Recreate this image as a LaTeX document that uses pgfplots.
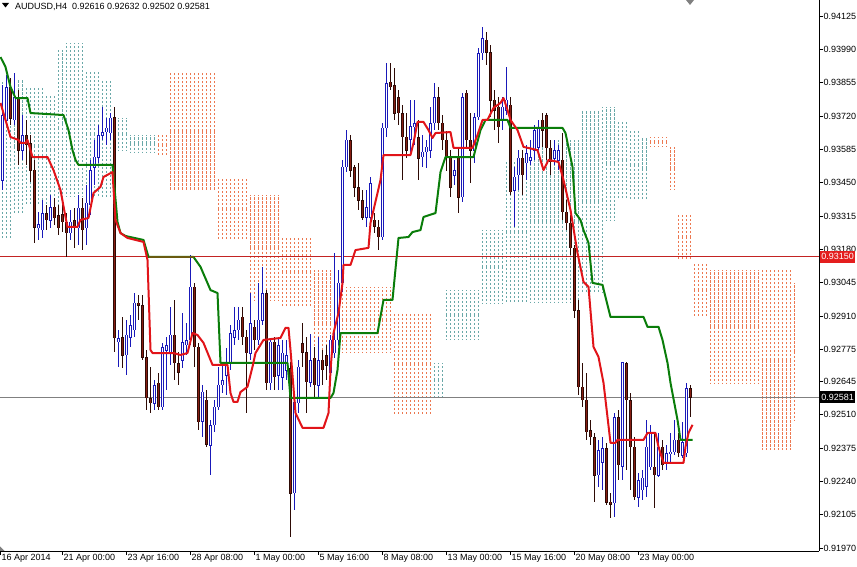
\documentclass[border=0pt]{standalone}
\usepackage{fontspec}
\setmainfont{Liberation Sans}
\usepackage{pgfplots}
\pgfplotsset{compat=1.18}
\usepackage{pgfplotstable}

\definecolor{bullc}{RGB}{25,25,185}
\definecolor{bearc}{RGB}{135,30,18}
\definecolor{bearo}{RGB}{45,10,5}
\definecolor{tenkan}{RGB}{225,20,25}
\definecolor{kijun}{RGB}{10,125,10}
\definecolor{olivel}{RGB}{105,90,15}
\definecolor{kumoupc}{RGB}{105,168,168}
\definecolor{kumodnc}{RGB}{236,120,80}
\definecolor{hred}{RGB}{195,35,35}
\definecolor{boxred}{RGB}{228,30,30}
\definecolor{pline}{RGB}{128,128,128}

\pgfplotsset{
  candle/.style n args={3}{draw=none, no markers, forget plot,
    error bars/.cd, y dir=both, y explicit, error mark=none,
    error bar style={draw=#1, line width=#2, #3}},
}

% Ichimoku cloud columns: i, top, bottom
\pgfplotstableread{
i A B
1 0.93866 0.93218
2 0.93866 0.93218
3 0.93866 0.93218
4 0.93866 0.93327
5 0.93866 0.93327
6 0.93866 0.93327
7 0.93838 0.93360
8 0.93838 0.93360
9 0.93838 0.93360
10 0.93838 0.93360
11 0.93838 0.93360
12 0.93805 0.93360
13 0.93805 0.93360
14 0.93805 0.93360
15 0.93987 0.93360
16 0.93987 0.93392
17 0.94016 0.93392
18 0.94016 0.93392
19 0.94016 0.93392
20 0.94016 0.93392
21 0.94016 0.93392
22 0.93906 0.93392
23 0.93906 0.93392
24 0.93906 0.93392
25 0.93906 0.93392
26 0.93866 0.93392
27 0.93866 0.93392
28 0.93866 0.93392
29 0.93712 0.93392
30 0.93712 0.93582
31 0.93712 0.93582
32 0.93712 0.93582
33 0.93643 0.93574
34 0.93643 0.93574
35 0.93643 0.93574
36 0.93643 0.93574
37 0.93643 0.93574
38 0.93643 0.93574
39 0.93643 0.93574
109 0.92720 0.92582
110 0.92720 0.92582
111 0.92720 0.92582
112 0.93015 0.92813
113 0.93015 0.92813
114 0.93015 0.92813
115 0.93015 0.92813
116 0.93015 0.92813
117 0.93015 0.92813
118 0.93015 0.92813
119 0.93015 0.92813
120 0.93015 0.92813
121 0.93258 0.92963
122 0.93258 0.92963
123 0.93258 0.92963
124 0.93258 0.92963
125 0.93258 0.92963
126 0.93258 0.92963
127 0.93542 0.92963
128 0.93542 0.92963
129 0.93542 0.92963
130 0.93542 0.92963
131 0.93542 0.92963
132 0.93542 0.92963
133 0.93623 0.92963
134 0.93623 0.92963
135 0.93623 0.92963
136 0.93623 0.92963
137 0.93623 0.92963
138 0.93623 0.92963
139 0.93623 0.92963
140 0.93623 0.92963
141 0.93623 0.92963
142 0.93623 0.92963
143 0.93623 0.92963
144 0.93623 0.92963
145 0.93623 0.92963
146 0.93744 0.93003
147 0.93744 0.93003
148 0.93744 0.93003
149 0.93744 0.93003
150 0.93744 0.93003
151 0.93757 0.93003
152 0.93757 0.93299
153 0.93757 0.93299
154 0.93757 0.93299
155 0.93704 0.93380
156 0.93704 0.93380
157 0.93704 0.93380
158 0.93663 0.93380
159 0.93663 0.93380
160 0.93663 0.93380
161 0.93635 0.93380
162 0.93635 0.93380
}\kumoup

\pgfplotstableread{
i A B
40 0.93651 0.93554
41 0.93651 0.93554
42 0.93651 0.93554
43 0.93898 0.93420
44 0.93898 0.93420
45 0.93898 0.93420
46 0.93898 0.93420
47 0.93898 0.93420
48 0.93898 0.93420
49 0.93898 0.93420
50 0.93898 0.93420
51 0.93898 0.93420
52 0.93898 0.93420
53 0.93898 0.93420
54 0.93898 0.93420
55 0.93473 0.93218
56 0.93473 0.93218
57 0.93473 0.93218
58 0.93473 0.93218
59 0.93473 0.93218
60 0.93473 0.93218
61 0.93473 0.93218
62 0.93473 0.93218
63 0.93400 0.92975
64 0.93400 0.92975
65 0.93400 0.92975
66 0.93400 0.92975
67 0.93400 0.92975
68 0.93400 0.92975
69 0.93400 0.92975
70 0.93400 0.92975
71 0.93230 0.92947
72 0.93230 0.92947
73 0.93230 0.92947
74 0.93230 0.92947
75 0.93230 0.92947
76 0.93230 0.92947
77 0.93230 0.92947
78 0.93230 0.92947
79 0.93096 0.92663
80 0.93096 0.92663
81 0.93096 0.92663
82 0.93096 0.92663
83 0.93096 0.92663
84 0.93028 0.92760
85 0.93028 0.92760
86 0.93028 0.92760
87 0.93028 0.92760
88 0.93028 0.92760
89 0.93028 0.92760
90 0.93028 0.92760
91 0.93028 0.92760
92 0.93028 0.92760
93 0.93028 0.92760
94 0.93028 0.92760
95 0.93028 0.92760
96 0.93028 0.92760
97 0.93028 0.92760
98 0.93028 0.92760
99 0.92922 0.92509
100 0.92922 0.92509
101 0.92922 0.92509
102 0.92922 0.92509
103 0.92922 0.92509
104 0.92922 0.92509
105 0.92922 0.92509
106 0.92922 0.92509
107 0.92922 0.92509
108 0.92922 0.92509
163 0.93635 0.93595
164 0.93635 0.93595
165 0.93635 0.93595
166 0.93635 0.93595
167 0.93635 0.93595
168 0.93595 0.93420
169 0.93595 0.93420
170 0.93327 0.93137
171 0.93327 0.93137
172 0.93327 0.93137
173 0.93327 0.93137
174 0.93125 0.92906
175 0.93125 0.92906
176 0.93125 0.92906
177 0.93125 0.92906
178 0.93096 0.92639
179 0.93096 0.92639
180 0.93096 0.92639
181 0.93096 0.92639
182 0.93096 0.92639
183 0.93096 0.92639
184 0.93096 0.92639
185 0.93096 0.92639
186 0.93096 0.92639
187 0.93096 0.92639
188 0.93096 0.92639
189 0.93096 0.92639
190 0.93096 0.92639
191 0.93096 0.92367
192 0.93096 0.92367
193 0.93096 0.92367
194 0.93096 0.92367
195 0.93096 0.92367
196 0.93096 0.92367
197 0.93096 0.92367
198 0.93096 0.92367
199 0.93044 0.92489
}\kumodn

\pgfplotstableread{
i O H L C
1 0.93461 0.93846 0.93420 0.93724
2 0.93704 0.93886 0.93684 0.93838
4 0.93704 0.93894 0.93684 0.93797
6 0.93582 0.93724 0.93542 0.93643
10 0.93267 0.93331 0.93218 0.93283
11 0.93258 0.93380 0.93226 0.93327
13 0.93299 0.93400 0.93267 0.93352
18 0.93246 0.93339 0.93218 0.93291
20 0.93267 0.93400 0.93198 0.93348
22 0.93267 0.93441 0.93198 0.93368
23 0.93360 0.93542 0.93319 0.93501
24 0.93510 0.93623 0.93441 0.93554
25 0.93554 0.93684 0.93530 0.93643
26 0.93643 0.93757 0.93623 0.93655
27 0.93655 0.93712 0.93603 0.93672
28 0.93651 0.93732 0.93623 0.93712
30 0.92805 0.92853 0.92704 0.92821
32 0.92752 0.92894 0.92671 0.92833
33 0.92825 0.92914 0.92785 0.92874
34 0.92853 0.93003 0.92825 0.92963
39 0.92558 0.92651 0.92529 0.92631
41 0.92542 0.92801 0.92529 0.92785
42 0.92772 0.92825 0.92610 0.92793
43 0.92760 0.92947 0.92712 0.92833
46 0.92732 0.92922 0.92700 0.92805
47 0.92793 0.92882 0.92752 0.92813
48 0.92813 0.93157 0.92793 0.93028
51 0.92481 0.92631 0.92420 0.92602
53 0.92388 0.92489 0.92266 0.92469
54 0.92469 0.92570 0.92440 0.92542
55 0.92542 0.92704 0.92529 0.92631
56 0.92631 0.92720 0.92598 0.92651
57 0.92671 0.92781 0.92590 0.92720
58 0.92720 0.92874 0.92691 0.92841
59 0.92825 0.92947 0.92793 0.92853
60 0.92853 0.92947 0.92813 0.92894
63 0.92760 0.93003 0.92732 0.92882
65 0.92813 0.93044 0.92793 0.92894
66 0.92894 0.93109 0.92874 0.93003
68 0.92639 0.92813 0.92610 0.92805
70 0.92671 0.92825 0.92610 0.92793
71 0.92659 0.92813 0.92610 0.92760
72 0.92691 0.92813 0.92651 0.92752
74 0.92193 0.92598 0.92124 0.92562
75 0.92558 0.92732 0.92517 0.92704
78 0.92643 0.92841 0.92623 0.92732
80 0.92631 0.92825 0.92582 0.92732
83 0.92679 0.92833 0.92651 0.92813
84 0.92760 0.93165 0.92740 0.92813
85 0.92813 0.93096 0.92793 0.93044
86 0.93044 0.93542 0.93007 0.93514
87 0.93514 0.93663 0.93493 0.93623
92 0.93311 0.93420 0.93271 0.93352
93 0.93311 0.93473 0.93279 0.93449
96 0.93230 0.93692 0.93218 0.93672
97 0.93672 0.93935 0.93635 0.93854
103 0.93623 0.93785 0.93570 0.93676
104 0.93676 0.93785 0.93603 0.93692
106 0.93554 0.93643 0.93514 0.93574
107 0.93574 0.93623 0.93510 0.93595
108 0.93582 0.93757 0.93550 0.93692
109 0.93692 0.93854 0.93663 0.93797
114 0.93481 0.93542 0.93441 0.93501
116 0.93392 0.93813 0.93372 0.93797
119 0.93582 0.93732 0.93530 0.93716
120 0.93716 0.93996 0.93704 0.93975
121 0.93975 0.94081 0.93947 0.94036
126 0.93704 0.93797 0.93663 0.93757
127 0.93744 0.93919 0.93724 0.93785
129 0.93420 0.93514 0.93271 0.93473
130 0.93481 0.93582 0.93420 0.93550
132 0.93530 0.93603 0.93461 0.93570
133 0.93542 0.93623 0.93522 0.93554
134 0.93582 0.93684 0.93542 0.93663
135 0.93595 0.93704 0.93582 0.93676
139 0.93550 0.93623 0.93522 0.93582
140 0.93542 0.93603 0.93501 0.93582
150 0.92266 0.92408 0.92218 0.92367
151 0.92319 0.92420 0.92205 0.92376
154 0.92153 0.92517 0.92096 0.92501
156 0.92299 0.92724 0.92246 0.92720
160 0.92177 0.92274 0.92137 0.92246
161 0.92205 0.92286 0.92165 0.92254
162 0.92218 0.92489 0.92177 0.92380
163 0.92299 0.92469 0.92286 0.92436
165 0.92266 0.92436 0.92258 0.92380
167 0.92315 0.92388 0.92286 0.92355
168 0.92355 0.92436 0.92315 0.92359
169 0.92359 0.92489 0.92347 0.92408
171 0.92347 0.92481 0.92335 0.92400
172 0.92355 0.92640 0.92339 0.92616
}\bull

\pgfplotstableread{
i O H L C
3 0.93838 0.93874 0.93684 0.93712
5 0.93797 0.93825 0.93522 0.93582
7 0.93643 0.93704 0.93522 0.93603
8 0.93611 0.93643 0.93453 0.93501
9 0.93501 0.93542 0.93206 0.93267
12 0.93327 0.93360 0.93258 0.93299
14 0.93352 0.93388 0.93279 0.93307
15 0.93319 0.93360 0.93238 0.93267
16 0.93323 0.93380 0.93250 0.93291
17 0.93291 0.93327 0.93149 0.93246
19 0.93299 0.93348 0.93186 0.93275
21 0.93348 0.93388 0.93177 0.93258
29 0.93716 0.93757 0.92764 0.92821
31 0.92825 0.92906 0.92700 0.92752
35 0.92963 0.92995 0.92894 0.92951
36 0.92955 0.92995 0.92732 0.92744
37 0.92744 0.92772 0.92529 0.92578
38 0.92578 0.92704 0.92517 0.92558
40 0.92639 0.92679 0.92529 0.92542
44 0.92833 0.92975 0.92651 0.92720
45 0.92720 0.92764 0.92631 0.92683
49 0.93028 0.93044 0.92704 0.92785
50 0.92785 0.92801 0.92448 0.92481
52 0.92570 0.92610 0.92380 0.92388
61 0.92906 0.92947 0.92793 0.92825
62 0.92825 0.92853 0.92517 0.92760
64 0.92866 0.92894 0.92772 0.92813
67 0.93003 0.93015 0.92610 0.92639
69 0.92805 0.92825 0.92610 0.92663
73 0.92700 0.92724 0.92015 0.92193
76 0.92801 0.92882 0.92704 0.92764
77 0.92764 0.92825 0.92517 0.92643
79 0.92740 0.92785 0.92582 0.92631
81 0.92732 0.92772 0.92631 0.92691
82 0.92752 0.92793 0.92651 0.92712
88 0.93623 0.93643 0.93473 0.93501
89 0.93514 0.93522 0.93392 0.93433
90 0.93433 0.93530 0.93339 0.93380
91 0.93380 0.93420 0.93299 0.93311
94 0.93299 0.93327 0.93246 0.93271
95 0.93271 0.93299 0.93177 0.93230
98 0.93858 0.93935 0.93825 0.93838
99 0.93846 0.93915 0.93704 0.93732
100 0.93797 0.93825 0.93684 0.93732
101 0.93732 0.93765 0.93461 0.93635
102 0.93635 0.93732 0.93550 0.93582
105 0.93635 0.93704 0.93461 0.93550
110 0.93797 0.93838 0.93663 0.93692
111 0.93692 0.93724 0.93582 0.93623
112 0.93623 0.93663 0.93501 0.93554
113 0.93554 0.93582 0.93392 0.93433
115 0.93554 0.93595 0.93327 0.93392
117 0.93813 0.93825 0.93595 0.93623
118 0.93623 0.93732 0.93449 0.93582
122 0.94028 0.94060 0.93927 0.93979
123 0.93979 0.94008 0.93716 0.93785
124 0.93785 0.93825 0.93663 0.93744
125 0.93757 0.93797 0.93611 0.93676
128 0.93765 0.93797 0.93400 0.93412
131 0.93550 0.93582 0.93400 0.93481
136 0.93704 0.93732 0.93595 0.93663
137 0.93724 0.93732 0.93542 0.93591
138 0.93591 0.93623 0.93481 0.93534
141 0.93542 0.93651 0.93299 0.93331
142 0.93331 0.93380 0.93258 0.93287
143 0.93287 0.93319 0.93157 0.93186
144 0.93186 0.93198 0.92902 0.92934
145 0.92934 0.92975 0.92590 0.92623
146 0.92623 0.92720 0.92542 0.92570
147 0.92570 0.92679 0.92408 0.92440
148 0.92448 0.92489 0.92388 0.92420
149 0.92420 0.92436 0.92157 0.92266
152 0.92376 0.92396 0.92145 0.92157
153 0.92157 0.92193 0.92092 0.92145
155 0.92501 0.92529 0.92246 0.92307
157 0.92720 0.92724 0.92286 0.92570
158 0.92570 0.92598 0.92205 0.92380
159 0.92380 0.92420 0.92165 0.92177
164 0.92299 0.92436 0.92133 0.92266
166 0.92380 0.92408 0.92286 0.92307
170 0.92408 0.92436 0.92339 0.92355
173 0.92616 0.92632 0.92502 0.92581
}\bear

\begin{document}
\begin{tikzpicture}
\useasboundingbox (0,0) rectangle (857bp,567bp);
\begin{axis}[
  at={(0,16bp)}, anchor=south west, scale only axis,
  width=819bp, height=551bp,
  xmin=0.375, xmax=205.125, ymin=0.91958, ymax=0.94190,
  axis x line*=bottom, axis y line*=right,
  axis line style={-, black, line width=0.8bp},
  tick align=outside, major tick length=3.5bp,
  tick style={black, line width=0.6bp},
  scaled ticks=false,
  xtick={0.5,16,32,48,64,80,96,112,128,144,160},
  xticklabels={16 Apr 2014,21 Apr 00:00,23 Apr 16:00,28 Apr 08:00,1 May 00:00,5 May 16:00,8 May 08:00,13 May 00:00,15 May 16:00,20 May 08:00,23 May 00:00},
  ytick={0.91970,0.92105,0.92240,0.92375,0.92510,0.92645,0.92775,0.92910,0.93045,0.93180,0.93315,0.93450,0.93585,0.93720,0.93855,0.93990,0.94125},
  yticklabels={0.91970,0.92105,0.92240,0.92375,0.92510,0.92645,0.92775,0.92910,0.93045,0.93180,0.93315,0.93450,0.93585,0.93720,0.93855,0.93990,0.94125},
  ticklabel style={font=\fontsize{9bp}{10bp}\selectfont},
  xticklabel style={anchor=north west, inner sep=0pt, xshift=1bp},
  yticklabel style={anchor=west, inner sep=0pt, xshift=1bp},
]
% Kumo (cloud) drawn as dotted columns
\addplot[candle={kumoupc}{0.9bp}{dash pattern=on 2.2bp off 1.8bp}]
  table[x=i, y expr={(\thisrow{A}+\thisrow{B})/2}, y error expr={(\thisrow{A}-\thisrow{B})/2}] {\kumoup};
\addplot[candle={kumodnc}{0.9bp}{dash pattern=on 2.2bp off 1.8bp}]
  table[x=i, y expr={(\thisrow{A}+\thisrow{B})/2}, y error expr={(\thisrow{A}-\thisrow{B})/2}] {\kumodn};
% horizontal lines
\addplot[hred, line width=0.8bp] coordinates {(0.375,0.93150)(205.125,0.93150)};
\addplot[pline, line width=0.8bp] coordinates {(0.375,0.92581)(205.125,0.92581)};
% candles: wicks
\addplot[candle={bullc}{1bp}{}]
  table[x=i, y expr={(\thisrow{H}+\thisrow{L})/2}, y error expr={(\thisrow{H}-\thisrow{L})/2}] {\bull};
\addplot[candle={bearo}{1bp}{}]
  table[x=i, y expr={(\thisrow{H}+\thisrow{L})/2}, y error expr={(\thisrow{H}-\thisrow{L})/2}] {\bear};
% candles: bodies
\addplot[candle={bullc}{3bp}{}]
  table[x=i, y expr={(\thisrow{O}+\thisrow{C})/2}, y error expr={abs(\thisrow{C}-\thisrow{O})/2+0.000012}] {\bull};
\addplot[candle={white}{1bp}{}]
  table[x=i, y expr={(\thisrow{O}+\thisrow{C})/2}, y error expr={max(abs(\thisrow{C}-\thisrow{O})/2-0.000015,0)}] {\bull};
\addplot[candle={bearo}{3bp}{}]
  table[x=i, y expr={(\thisrow{O}+\thisrow{C})/2}, y error expr={abs(\thisrow{C}-\thisrow{O})/2+0.000012}] {\bear};
\addplot[candle={bearc}{1.2bp}{}]
  table[x=i, y expr={(\thisrow{O}+\thisrow{C})/2}, y error expr={max(abs(\thisrow{C}-\thisrow{O})/2-0.000015,0)}] {\bear};
% Kijun-sen
\addplot[kijun, line width=2bp, line join=round] coordinates {(0.5,0.93959)(1.75,0.93919)(3,0.93838)(4.25,0.93793)(7.25,0.93793)(8,0.93732)(16.25,0.93724)(17.5,0.93663)(18.5,0.93582)(19.25,0.93542)(20,0.93522)(28.5,0.93522)(29.75,0.93291)(30.5,0.93246)(31.75,0.93234)(36.25,0.93218)(37.5,0.93149)(48.75,0.93149)(50.5,0.93109)(53,0.93015)(54.75,0.93003)(55.5,0.92720)(72.25,0.92720)(73,0.92578)(83,0.92578)(83.75,0.92598)(84.75,0.92691)(85.5,0.92841)(94.75,0.92841)(96.25,0.92975)(98.5,0.92975)(100,0.93226)(102.5,0.93230)(103.5,0.93250)(105.5,0.93258)(106.25,0.93311)(109.25,0.93327)(110.5,0.93493)(111.75,0.93554)(118.75,0.93554)(120.5,0.93663)(121.75,0.93704)(127.25,0.93704)(128,0.93672)(141,0.93672)(141.75,0.93651)(143.5,0.93514)(144.25,0.93327)(145.5,0.93299)(146.25,0.93258)(147.5,0.93206)(148.5,0.93044)(151,0.93036)(151.75,0.92987)(153,0.92906)(161.25,0.92906)(162.25,0.92866)(165,0.92866)(166,0.92813)(167.25,0.92720)(168,0.92639)(169.75,0.92489)(170.5,0.92408)(173.5,0.92408)};
\addplot[olivel, line width=2.2bp] coordinates {(37.5,0.93149)(48.75,0.93149)};
% Tenkan-sen
\addplot[tenkan, line width=2bp, line join=round] coordinates {(0.5,0.93773)(1.75,0.93704)(3,0.93635)(5,0.93623)(5.5,0.93611)(6.75,0.93611)(7.25,0.93623)(8.5,0.93554)(12.25,0.93554)(13.75,0.93501)(15.5,0.93420)(16.75,0.93311)(17.25,0.93271)(19.75,0.93271)(20.5,0.93299)(22.5,0.93307)(23.75,0.93408)(25.5,0.93433)(26.25,0.93473)(28.5,0.93493)(29.25,0.93299)(30.5,0.93246)(32.25,0.93226)(36.25,0.93210)(37.25,0.93137)(38,0.92772)(38.5,0.92760)(43.75,0.92760)(45.5,0.92752)(47.25,0.92760)(48.5,0.92841)(49.75,0.92833)(51.25,0.92801)(53.5,0.92712)(57.25,0.92712)(58,0.92598)(58.75,0.92562)(59.75,0.92562)(60.5,0.92602)(62.25,0.92623)(63.5,0.92704)(64.25,0.92760)(66.25,0.92813)(70.5,0.92821)(71.75,0.92862)(72.5,0.92862)(73,0.92772)(74.25,0.92517)(76,0.92457)(81.25,0.92457)(82.5,0.92517)(83,0.92691)(83.75,0.92841)(85,0.92922)(86,0.93044)(86.25,0.93117)(88,0.93117)(89.25,0.93177)(92.5,0.93186)(93,0.93287)(94.75,0.93408)(95.5,0.93461)(96.25,0.93562)(103,0.93562)(103.75,0.93611)(104.75,0.93696)(106.25,0.93696)(107.5,0.93663)(108.5,0.93631)(109.25,0.93651)(113,0.93655)(113.75,0.93591)(118.5,0.93591)(119.75,0.93643)(121,0.93704)(122.25,0.93704)(123.75,0.93753)(125.5,0.93773)(126.25,0.93793)(127.25,0.93744)(128,0.93704)(129.75,0.93663)(131.25,0.93595)(134.75,0.93582)(136.25,0.93501)(137.5,0.93542)(140,0.93534)(141.25,0.93461)(143,0.93339)(144.75,0.93165)(146.25,0.93048)(147.5,0.93028)(148.75,0.92785)(150,0.92744)(151.25,0.92639)(153,0.92396)(154.25,0.92396)(154.75,0.92408)(161.25,0.92408)(162.25,0.92436)(164.25,0.92436)(165,0.92380)(166.25,0.92315)(171.25,0.92315)(171.75,0.92380)(172.5,0.92436)(173.5,0.92469)};
\coordinate (hr) at (axis cs:205.125,0.93150);
\coordinate (hg) at (axis cs:205.125,0.92581);
\end{axis}
\node[fill=boxred, text=white, anchor=west, inner xsep=1.5bp, inner ysep=0pt, minimum height=12bp, font=\fontsize{9bp}{10bp}\selectfont] at ([xshift=0.6bp]hr) {0.93150};
\node[fill=black, text=white, anchor=west, inner xsep=1.5bp, inner ysep=0pt, minimum height=12bp, font=\fontsize{9bp}{10bp}\selectfont] at ([xshift=0.6bp]hg) {0.92581};
\fill[black] (2bp,564bp) -- (9bp,564bp) -- (5.5bp,559.5bp) -- cycle;
\node[anchor=base west, inner sep=0pt, font=\fontsize{9bp}{10bp}\selectfont] at (15bp,557.5bp) {AUDUSD,H4\hspace{5bp}0.92616 0.92632 0.92502 0.92581};
\fill[gray] (686bp,567bp) -- (694bp,567bp) -- (690bp,562bp) -- cycle;
\fill[gray] (0bp,16bp) -- (4.5bp,16bp) -- (0bp,20.5bp) -- cycle;
\end{tikzpicture}
\end{document}
